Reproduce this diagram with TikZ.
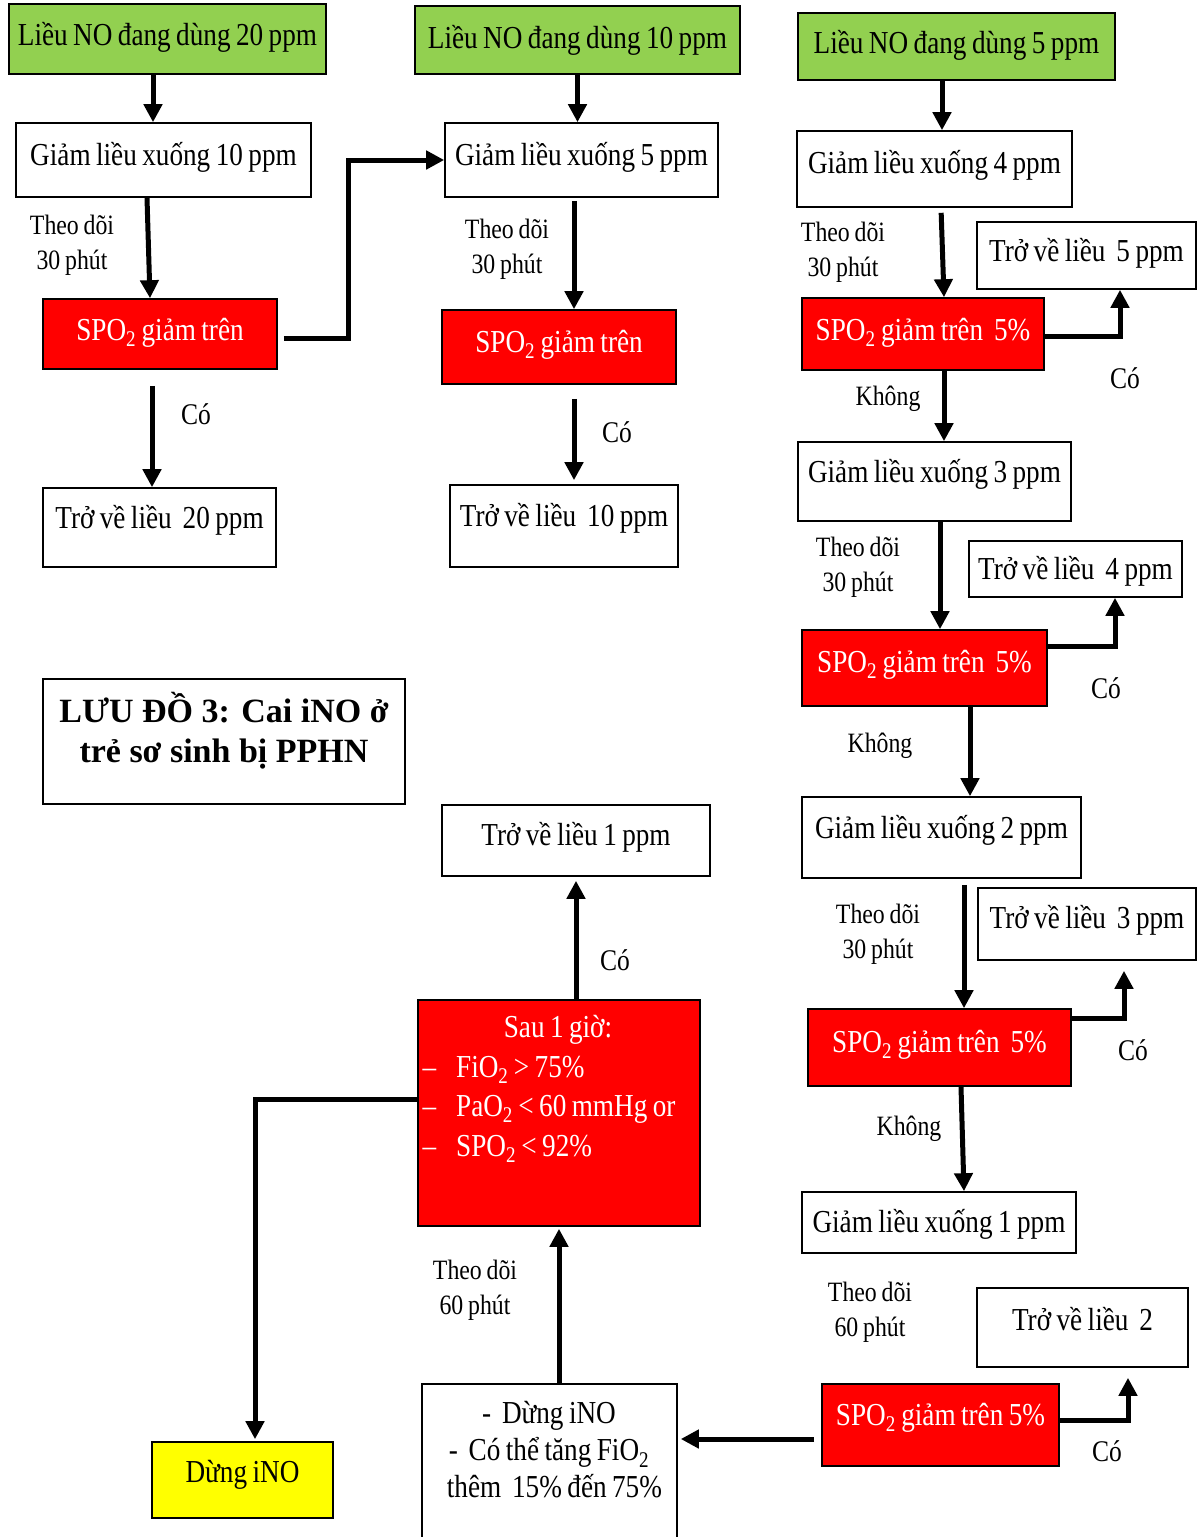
\documentclass[tikz,border=0pt]{standalone}
\usepackage{fontspec}
\setmainfont{Liberation Serif}[FakeStretch=0.85,WordSpace=0.8]
\newfontfamily\titlefont{Liberation Serif}
\usepackage{tikz}
\usetikzlibrary{arrows.meta}
\definecolor{dosegreen}{RGB}{146,208,80}
\definecolor{alarmred}{RGB}{255,0,0}
\definecolor{stopyellow}{RGB}{255,255,0}
\newcommand{\boxfont}{\fontsize{32}{37}\selectfont}
\newcommand{\notefont}{\fontsize{28}{35}\selectfont}
\newcommand{\yesfont}{\fontsize{30}{35}\selectfont}
\newcommand{\SPO}{SPO\textsubscript{2}}

\begin{document}
\begin{tikzpicture}[x=1pt,y=-1pt,
  every node/.style={font=\boxfont},
  box/.style={draw=black,line width=1.6pt,inner sep=0pt,text height=22pt,text depth=7pt},
  dims/.style 2 args={minimum width=#1pt,minimum height=#2pt},
  dosebox/.style={box,fill=dosegreen},
  alarmbox/.style={box,fill=alarmred,text=white},
  plainbox/.style={box,fill=white},
  endbox/.style={box,fill=stopyellow},
  note/.style={align=center,font=\notefont},
  yes/.style={font=\yesfont},
  arr/.style={line width=5pt,-{Triangle[width=18pt,length=18pt]}}]
  \useasboundingbox (0,0) rectangle (1200,1537);
  \clip (0,0) rectangle (1200,1537);
  \fill[white] (0,0) rectangle (1200,1537);

  % column 20 ppm
  \node[dosebox,dims={317}{70},text depth=9pt] (g20) at (167.5,39) {Liều NO đang dùng 20 ppm};
  \node[plainbox,dims={295}{74},text depth=11pt] (r10) at (163.5,160) {Giảm liều xuống 10 ppm};
  \node[alarmbox,dims={234}{70},text depth=9pt] (s1) at (160,334) {\SPO{} giảm trên};
  \node[plainbox,dims={233}{79},text depth=20pt] (b20) at (159.5,527.5) {Trở về liều\ \ 20 ppm};
  \node[note] (t1) at (72,245) {Theo dõi\\30 phút};
  \node[yes] (c1) at (196,414) {Có};

  % column 10 ppm
  \node[dosebox,dims={325}{68},text depth=5pt] (g10) at (577.5,40) {Liều NO đang dùng 10 ppm};
  \node[plainbox,dims={273}{74},text depth=11pt] (r5) at (581.5,160) {Giảm liều xuống 5 ppm};
  \node[alarmbox,dims={234}{74},text depth=11pt] (s2) at (559,347) {\SPO{} giảm trên};
  \node[plainbox,dims={228}{82},text depth=21pt] (b10) at (564,526) {Trở về liều\ \ 10 ppm};
  \node[note] (t2) at (507,249) {Theo dõi\\30 phút};
  \node[yes] (c2) at (617,432) {Có};

  % column 5 ppm
  \node[dosebox,dims={317}{67},text depth=8pt] (g5) at (956.5,46.5) {Liều NO đang dùng 5 ppm};
  \node[plainbox,dims={275}{76},text depth=13pt] (r4) at (934.5,169) {Giảm liều xuống 4 ppm};
  \node[alarmbox,dims={242}{72},text depth=9pt] (s3) at (923,334) {\SPO{} giảm trên\ \ 5\%};
  \node[plainbox,dims={219}{67},text depth=10pt] (b5) at (1086.5,255.5) {Trở về liều\ \ 5 ppm};
  \node[note] (t3) at (843,252) {Theo dõi\\30 phút};
  \node[yes] (c3) at (1125,378) {Có};
  \node[note] (k3) at (888,399) {Không};

  \node[plainbox,dims={273}{79},text depth=20pt] (r3) at (934.5,481.5) {Giảm liều xuống 3 ppm};
  \node[plainbox,dims={213}{56},text depth=1pt] (b4) at (1075.5,569) {Trở về liều\ \ 4 ppm};
  \node[alarmbox,dims={245}{76},text depth=13pt] (s4) at (924.5,668) {\SPO{} giảm trên\ \ 5\%};
  \node[note] (t4) at (858,567) {Theo dõi\\30 phút};
  \node[yes] (c4) at (1106,688) {Có};
  \node[note] (k4) at (880,746) {Không};

  \node[plainbox,dims={279}{81},text depth=20pt] (r2) at (941.5,837.5) {Giảm liều xuống 2 ppm};
  \node[plainbox,dims={218}{72},text depth=13pt] (b3) at (1087,924) {Trở về liều\ \ 3 ppm};
  \node[alarmbox,dims={263}{77},text depth=12pt] (s5) at (939.5,1047.5) {\SPO{} giảm trên\ \ 5\%};
  \node[note] (t5) at (878,934) {Theo dõi\\30 phút};
  \node[yes] (c5) at (1133,1050) {Có};
  \node[note] (k5) at (909,1129) {Không};

  \node[plainbox,dims={274}{61},text depth=2pt] (r1) at (939,1222.5) {Giảm liều xuống 1 ppm};
  \node[plainbox,dims={211}{79},text depth=16pt] (b2) at (1082.5,1327.5) {Trở về liều\ \ 2};
  \node[alarmbox,dims={237}{82},text depth=21pt] (s6) at (940.5,1425) {\SPO{} giảm trên 5\%};
  \node[note] (t6) at (870,1312) {Theo dõi\\60 phút};
  \node[yes] (c6) at (1107,1451) {Có};

  % stop branch
  \node[plainbox,dims={255}{176}] (stop) at (549.5,1472) {};
  \node[align=center,font=\fontsize{32}{37}\selectfont] (stoptxt) at (549,1450)
    {-\ \ Dừng iNO\\-\ \ Có thể tăng FiO\textsubscript{2}\\\ \ thêm\ \ 15\% đến 75\%};
  \node[alarmbox,dims={282}{226}] (chk) at (559,1113) {};
  \node[text=white] (chkhead) at (558,1030) {Sau 1 giờ:};
  \node[text=white,anchor=west,align=left,font=\fontsize{32}{39.5}\selectfont] (chklist) at (419,1109)
    {–\hspace{20pt}FiO\textsubscript{2} > 75\%\\–\hspace{20pt}PaO\textsubscript{2} < 60 mmHg or\\–\hspace{20pt}\SPO{} < 92\%};
  \node[plainbox,dims={268}{71},text depth=12pt] (b1) at (576,840.5) {Trở về liều 1 ppm};
  \node[endbox,dims={181}{76},text depth=17pt] (dung) at (242.5,1480) {Dừng iNO};
  \node[note] (t7) at (475,1290) {Theo dõi\\60 phút};
  \node[yes] (c7) at (615,960) {Có};

  % title
  \node[plainbox,dims={362}{125}] (titlebox) at (224,741.5) {};
  \node[align=center,font=\titlefont\bfseries\fontsize{34}{40}\selectfont] (title) at (224,731)
    {LƯU ĐỒ 3: Cai iNO ở\\trẻ sơ sinh bị PPHN};

  % connectors
  \draw[arr] ([xshift=-14.5pt]g20.south) -- ([xshift=-10.5pt]r10.north);
  \draw[arr] ([xshift=-16.5pt]r10.south) -- ([xshift=-10pt]s1.north);
  \draw[arr,shorten <=16pt] ([xshift=-8pt]s1.south) -- ([xshift=-7.5pt]b20.north);
  \draw[arr,shorten <=6pt] ([yshift=-4pt]s1.east) -- ++(71,0) |- (r5.west);
  \draw[arr] (g10.south) -- (g10.south |- r5.north);
  \draw[arr,shorten <=3pt] ([xshift=-7.5pt]r5.south) -- ([xshift=15pt]s2.north);
  \draw[arr,shorten <=14pt,shorten >=4pt] ([xshift=15pt]s2.south) -- ([xshift=10pt]b10.north);
  \draw[arr] ([xshift=7.5pt]r4.north |- g5.south) -- ([xshift=7.5pt]r4.north);
  \draw[arr,shorten <=5pt] ([xshift=6.5pt]r4.south) -- ([xshift=21pt]s3.north);
  \draw[arr] ([yshift=-2pt]s3.east) -| ([xshift=33.5pt]b5.south);
  \draw[arr] ([xshift=9.5pt]r3.north |- s3.south) -- ([xshift=9.5pt]r3.north);
  \draw[arr] ([xshift=5.5pt]r3.south) -- ([xshift=15.5pt]s4.north);
  \draw[arr] ([yshift=22pt]s4.east) -| ([xshift=39.5pt]b4.south);
  \draw[arr] ([xshift=28.5pt]r2.north |- s4.south) -- ([xshift=28.5pt]r2.north);
  \draw[arr,shorten <=6pt] ([xshift=22.5pt]r2.south) -- ([xshift=24.5pt]s5.north);
  \draw[arr,shorten >=10pt] ([yshift=29.5pt]s5.east) -| ([xshift=37pt]b3.south);
  \draw[arr] ([xshift=21.5pt]s5.south) -- ([xshift=25pt]r1.north);
  \draw[arr,shorten >=10pt] ([yshift=5pt]s6.east) -| ([xshift=45.5pt]b2.south);
  \draw[arr,shorten <=7pt,shorten >=3pt] ([yshift=-14pt]s6.west) -- ([yshift=-14pt]s6.west -| stop.east);
  \draw[arr,shorten >=2pt] (chk.south |- stop.north) -- (chk.south);
  \draw[arr,shorten >=4pt] (b1.south |- chk.north) -- (b1.south);
  \draw[arr,shorten >=2pt] ([yshift=14pt]chk.west) -| ([xshift=12.5pt]dung.north);
\end{tikzpicture}
\end{document}
